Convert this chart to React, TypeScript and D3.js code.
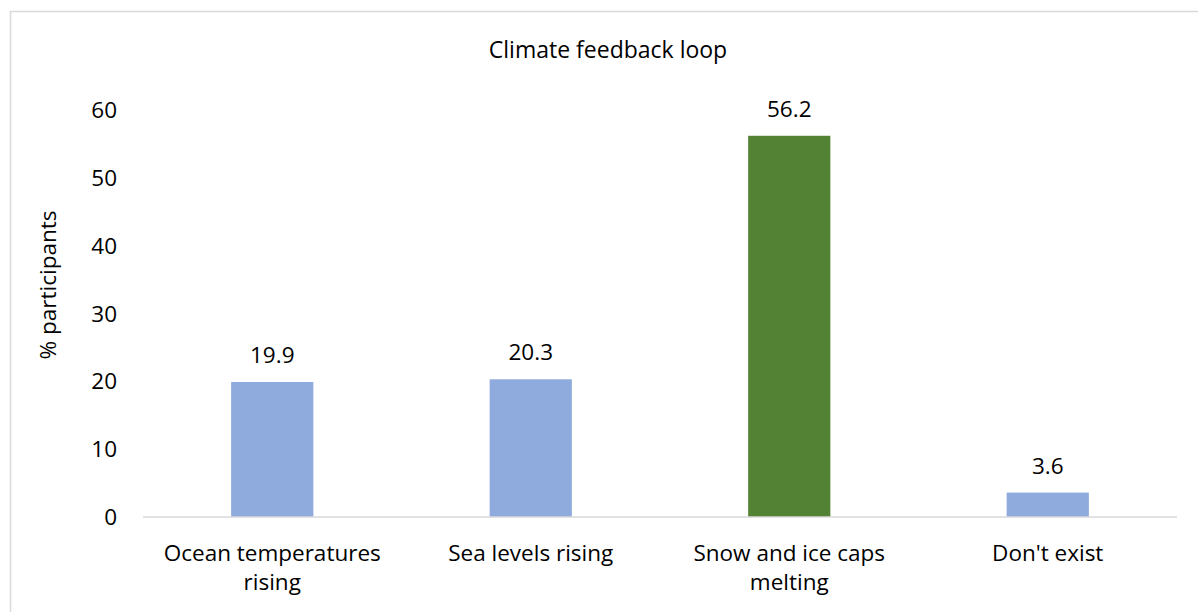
import React from "react";
import * as d3 from "d3";

const categories: string[][] = [
  ["Ocean temperatures", "rising"],
  ["Sea levels rising"],
  ["Snow and ice caps", "melting"],
  ["Don't exist"],
];
const values: number[] = [19.9, 20.3, 56.2, 3.6];
const barColors: string[] = ["#8FAADC", "#8FAADC", "#548235", "#8FAADC"];
const yTicks: number[] = [0, 10, 20, 30, 40, 50, 60];
const title = "Climate feedback loop";
const yLabel = "% participants";

const W = 1198;
const H = 612;
const FONT = "'Open Sans', 'Noto Sans', sans-serif";

export default function App() {
  const keys = categories.map((c) => c.join(" "));
  const x = d3.scaleBand<string>().domain(keys).range([143, 1177]).padding(0);
  const y = d3.scaleLinear().domain([0, 60]).range([517, 110]);
  const barW = x.bandwidth() * 0.318;
  const fs = 22.5;

  return (
    <svg
      width={W}
      height={H}
      style={{ position: "absolute", left: 0, top: 0, background: "#fff" }}
      fontFamily={FONT}
    >
      <rect x={10.5} y={11.5} width={W} height={H} fill="#fff" stroke="#d9d9d9" strokeWidth={1.5} />
      <text x={608} y={58} textAnchor="middle" fontSize={23} fill="#000">
        {title}
      </text>
      <text
        transform={`translate(56,285) rotate(-90)`}
        textAnchor="middle"
        fontSize={fs}
        fill="#000"
      >
        {yLabel}
      </text>
      {yTicks.map((t) => (
        <text key={t} x={117} y={y(t)} dy="0.36em" textAnchor="end" fontSize={fs} fill="#000">
          {t}
        </text>
      ))}
      {values.map((v, i) => {
        const k = keys[i];
        const bx = (x(k) as number) + (x.bandwidth() - barW) / 2;
        return (
          <g key={k}>
            <rect x={bx} y={y(v)} width={barW} height={y(0) - y(v)} fill={barColors[i]} />
            <text
              x={bx + barW / 2}
              y={y(v) - 19}
              textAnchor="middle"
              fontSize={fs}
              fill="#000"
            >
              {v.toFixed(1)}
            </text>
          </g>
        );
      })}
      <line x1={143} x2={1177} y1={517} y2={517} stroke="#d9d9d9" strokeWidth={1.5} />
      {categories.map((lines, i) => {
        const cx = (x(keys[i]) as number) + x.bandwidth() / 2;
        return (
          <text key={keys[i]} textAnchor="middle" fontSize={fs} fill="#000">
            {lines.map((ln, j) => (
              <tspan key={j} x={cx} y={561 + j * 29}>
                {ln}
              </tspan>
            ))}
          </text>
        );
      })}
    </svg>
  );
}
